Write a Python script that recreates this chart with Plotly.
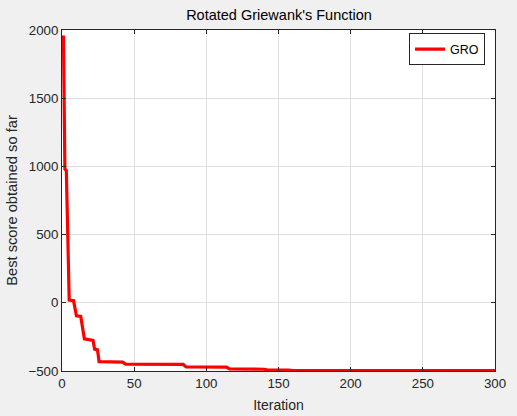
import plotly.graph_objects as go

# Convergence curve (best score so far) - breakpoints
iterations = [1, 2, 3, 5, 8, 10, 13, 15.5, 21.5, 22.6, 24.6, 25.7, 42, 44, 84, 86, 114, 116, 140, 142, 157, 160, 300]
best_scores = [1960, 980, 970, 20, 15, -95, -100, -265, -275, -340, -345, -432, -435, -450,
               -452, -470, -472, -485, -487, -492, -493, -497, -497]

x_ticks = [0, 50, 100, 150, 200, 250, 300]
y_ticks = [-500, 0, 500, 1000, 1500, 2000]

font_family = "Liberation Sans, Arial, sans-serif"
axis_color = "#262626"

fig = go.Figure()
fig.add_trace(go.Scatter(
    x=iterations, y=best_scores, mode="lines", name="GRO",
    line=dict(color="#ff0000", width=3.2),
))

common_axis = dict(
    showgrid=True, gridcolor="#dfdfdf", gridwidth=1,
    showline=True, linecolor=axis_color, linewidth=1,
    mirror="ticks", ticks="inside", ticklen=4, tickcolor=axis_color,
    zeroline=False, automargin=False, ticklabeloverflow="allow",
    tickfont=dict(size=13.3, color=axis_color, family=font_family),
)

fig.update_layout(
    width=517, height=416,
    paper_bgcolor="#f0f0f0", plot_bgcolor="#ffffff",
    margin=dict(l=62, r=22, t=30, b=45),
    font=dict(family=font_family, color=axis_color),
    title=dict(text="Rotated Griewank's Function", x=279 / 517, xanchor="center",
               y=1 - 15 / 416, yanchor="middle",
               font=dict(size=14.5, color="#000000", family=font_family)),
    xaxis=dict(range=[0, 300], tickvals=x_ticks,
               title=dict(text="Iteration", font=dict(size=14, color=axis_color), standoff=10),
               **common_axis),
    yaxis=dict(range=[-500, 2000], tickvals=y_ticks,
               title=dict(text="Best score obtained so far", font=dict(size=14.7, color=axis_color), standoff=7),
               **common_axis),
    showlegend=True,
    legend=dict(x=0.977, y=0.99, xanchor="right", yanchor="top",
                bgcolor="#ffffff", bordercolor=axis_color, borderwidth=1,
                font=dict(size=12.5, color="#000000", family=font_family),
                itemwidth=30, tracegroupgap=0),
)

fig.write_html("out.html", config={"displayModeBar": False},
               post_script="document.body.style.margin='0px';document.body.style.overflow='hidden';")
